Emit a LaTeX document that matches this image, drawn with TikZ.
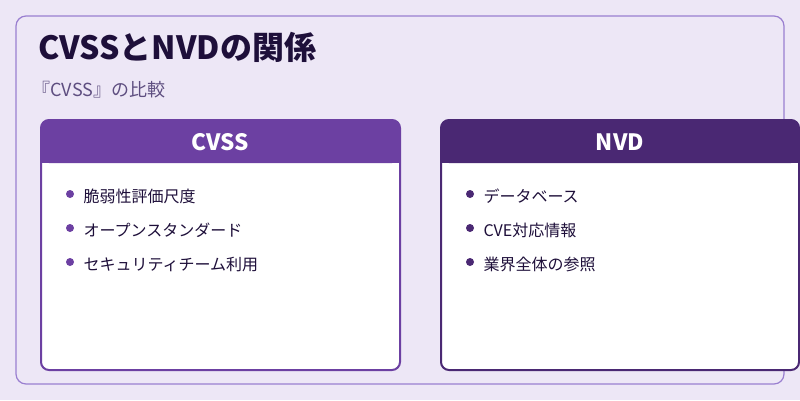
\documentclass[tikz,border=0pt]{standalone}
\usepackage{fontspec}
\setmainfont{Noto Sans CJK JP}
\definecolor{bgpurple}{HTML}{EDE7F6}
\definecolor{framepurple}{HTML}{9A7FD0}
\definecolor{cvsspurple}{HTML}{6C40A2}
\definecolor{nvdpurple}{HTML}{4A2873}
\definecolor{titleink}{HTML}{1E0F3A}
\definecolor{subink}{HTML}{5E4E80}
\tikzset{
  cardbody/.style={line width=2pt, fill=white, rounded corners=8pt},
  cardhead/.style={font=\bfseries\fontsize{22.5}{24}\selectfont, text=white},
  itemtext/.style={anchor=west, font=\fontsize{16}{18}\selectfont, text=titleink},
}
\begin{document}
\begin{tikzpicture}[x=1pt, y=-1pt]
    \fill [bgpurple] (0,0) rectangle (800,400) ;
    \useasboundingbox (0,0) rectangle (800,400) ;
    \draw [framepurple, line width=1.2pt, rounded corners=10pt] (16,16) rectangle (784,384) ;
    \node [anchor=west, text=titleink, font=\bfseries\fontsize{32}{34}\selectfont] (title) at (35,47) {CVSSとNVDの関係} ;
    \node [anchor=west, text=subink, font=\fontsize{18}{20}\selectfont] (sub) at (29,90) {『CVSS』の比較} ;
    % left card
    \draw [cardbody, draw=cvsspurple] (41,120) rectangle (400,370) ;
    \fill [cvsspurple, rounded corners=8pt] (41,163) -- (41,120) -- (400,120) -- (400,163) -- cycle ;
    \fill [cvsspurple] (41,150) rectangle (400,163) ;
    \node [cardhead] (cvss) at (220.5,142) {CVSS} ;
    \foreach \y/\t in {196/脆弱性評価尺度, 230/オープンスタンダード, 264/セキュリティチーム利用} {
        \fill [cvsspurple] (70,\y-2) circle (4) ;
        \node [itemtext] at (80,\y) {\t} ;
    }
    % right card
    \draw [cardbody, draw=nvdpurple] (441,120) rectangle (799,370) ;
    \fill [nvdpurple, rounded corners=8pt] (441,163) -- (441,120) -- (799,120) -- (799,163) -- cycle ;
    \fill [nvdpurple] (441,150) rectangle (799,163) ;
    \node [cardhead] (nvd) at (620,142) {NVD} ;
    \foreach \y/\t in {196/データベース, 230/CVE対応情報, 264/業界全体の参照} {
        \fill [nvdpurple] (470,\y-2) circle (4) ;
        \node [itemtext] at (480,\y) {\t} ;
    }
\end{tikzpicture}
\end{document}
